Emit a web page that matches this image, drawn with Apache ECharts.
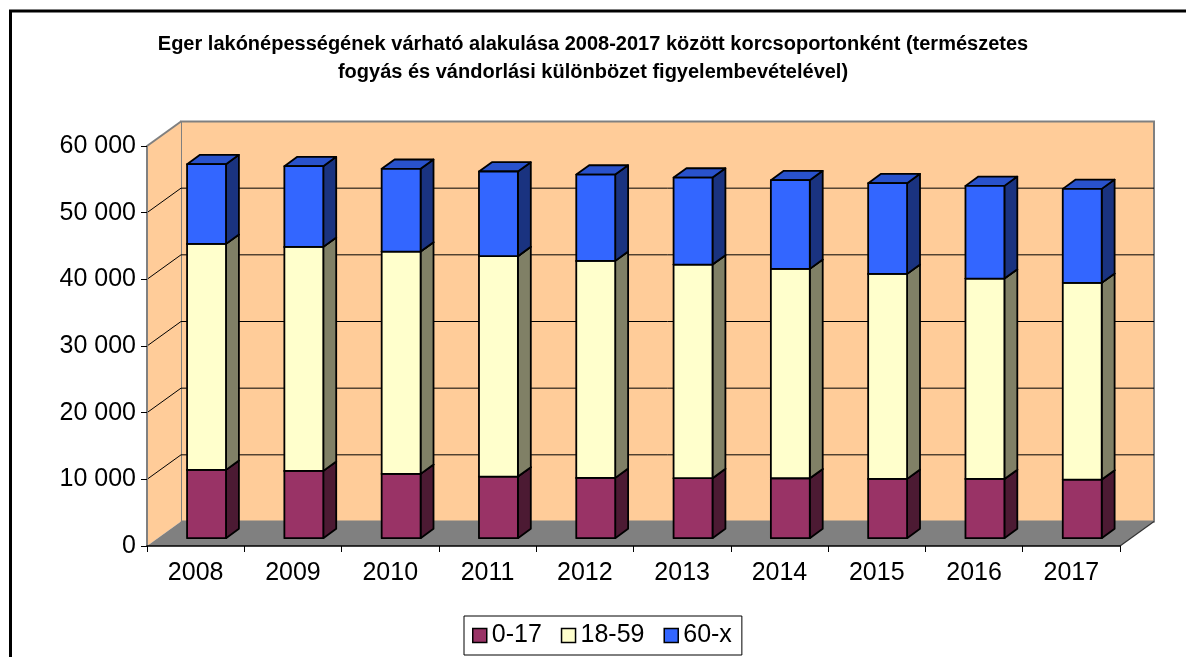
<!DOCTYPE html>
<html>
<head>
<meta charset="utf-8">
<script src="https://cdn.jsdelivr.net/npm/echarts@6/dist/echarts.min.js"></script>
<style>
  html, body { margin: 0; padding: 0; background: #fff; }
  #chart { width: 1186px; height: 657px; }
</style>
</head>
<body>
<div id="chart"></div>
<script>
// kategóriák és értékek
const years = ['2008', '2009', '2010', '2011', '2012', '2013', '2014', '2015', '2016', '2017']
const age0017 = [10240, 10090, 9640, 9240, 9040, 9000, 8990, 8890, 8880, 8790]
const age1859 = [33900, 33600, 33350, 33060, 32550, 32040, 31400, 30750, 30060, 29500]
const age60x = [11960, 12110, 12410, 12700, 12950, 13050, 13310, 13610, 13900, 14100]
const yTicks = [0, 10000, 20000, 30000, 40000, 50000, 60000]
const seriesNames = ['0-17', '18-59', '60-x']
const titleLines = [
  'Eger lakónépességének várható alakulása 2008-2017 között korcsoportonként (természetes',
  'fogyás és vándorlási különbözet figyelembevételével)'
]

const FONT = '"Liberation Sans", Arial, sans-serif'
// 3D mélység (px)
const DEPTH_X = 34
const DEPTH_Y = -24.5
const BAR_OFF = 0.32
const BAR_DEPTH = 0.38
const BAR_W = 0.4

const fmt = v => String(v).replace(/\B(?=(\d{3})+(?!\d))/g, ' ')

function stackData (vals, bases) {
  return vals.map((v, i) => [i, bases[i], bases[i] + v])
}
const base1 = age0017.slice()
const base2 = age0017.map((v, i) => v + age1859[i])

function barRender (face, side, top) {
  return function (params, api) {
    const i = api.value(0)
    const pLo = api.coord([i, api.value(1)])
    const pHi = api.coord([i, api.value(2)])
    const band = api.size([1, 0])[0]
    const w = band * BAR_W
    const ox = DEPTH_X * BAR_OFF
    const oy = DEPTH_Y * BAR_OFF
    const dx = DEPTH_X * BAR_DEPTH
    const dy = DEPTH_Y * BAR_DEPTH
    const x0 = pLo[0] - w / 2 + ox
    const x1 = x0 + w
    const yb = pLo[1] + oy
    const yt = pHi[1] + oy
    const stroke = { stroke: '#000', lineWidth: 1.8, lineJoin: 'round' }
    return {
      type: 'group',
      children: [
        { type: 'polygon', shape: { points: [[x1, yb], [x1 + dx, yb + dy], [x1 + dx, yt + dy], [x1, yt]] }, style: Object.assign({ fill: side }, stroke) },
        { type: 'polygon', shape: { points: [[x0, yt], [x1, yt], [x1 + dx, yt + dy], [x0 + dx, yt + dy]] }, style: Object.assign({ fill: top }, stroke) },
        { type: 'rect', shape: { x: x0, y: yt, width: w, height: yb - yt }, style: Object.assign({ fill: face }, stroke) }
      ]
    }
  }
}

function wallRender (params, api) {
  const band = api.size([1, 0])[0]
  const n = years.length
  const left = api.coord([0, 0])[0] - band / 2
  const right = api.coord([n - 1, 0])[0] + band / 2
  const yOf = v => api.coord([0, v])[1]
  const y0 = yOf(yTicks[0])
  const yTop = yOf(yTicks[yTicks.length - 1])
  const children = []
  // hátsó fal
  children.push({ type: 'rect', shape: { x: left + DEPTH_X, y: yTop + DEPTH_Y, width: right - left, height: y0 - yTop }, style: { fill: '#FFCC99', stroke: '#808080', lineWidth: 2 } })
  // bal oldali fal
  children.push({ type: 'polygon', shape: { points: [[left, y0], [left + DEPTH_X, y0 + DEPTH_Y], [left + DEPTH_X, yTop + DEPTH_Y], [left, yTop]] }, style: { fill: '#FFCC99' } })
  children.push({ type: 'line', shape: { x1: left, y1: yTop, x2: left + DEPTH_X, y2: yTop + DEPTH_Y }, style: { stroke: '#808080', lineWidth: 2 } })
  // rácsvonalak
  yTicks.slice(1, -1).forEach(v => {
    const y = yOf(v)
    children.push({ type: 'line', shape: { x1: left, y1: y, x2: left + DEPTH_X, y2: y + DEPTH_Y }, style: { stroke: '#000', lineWidth: 1 } })
    children.push({ type: 'line', shape: { x1: left + DEPTH_X, y1: y + DEPTH_Y, x2: right + DEPTH_X, y2: y + DEPTH_Y }, style: { stroke: '#000', lineWidth: 1 } })
  })
  // padló
  children.push({ type: 'polygon', shape: { points: [[left, y0], [right, y0], [right + DEPTH_X, y0 + DEPTH_Y], [left + DEPTH_X, y0 + DEPTH_Y]] }, style: { fill: '#808080' } })
  children.push({ type: 'line', shape: { x1: right, y1: y0, x2: right + DEPTH_X, y2: y0 + DEPTH_Y }, style: { stroke: '#333', lineWidth: 1.2 } })
  return { type: 'group', children }
}

const chart = echarts.init(document.getElementById('chart'), null, { renderer: 'canvas' })
const titleStyle = { fontFamily: FONT, fontSize: 20, fontWeight: 'bold', color: '#000' }
const option = {
  backgroundColor: '#fff',
  animation: false,
  graphic: [{
    type: 'rect',
    z: 100,
    shape: { x: 10.5, y: 11, width: 1300, height: 800 },
    style: { fill: null, stroke: '#000', lineWidth: 3 }
  }],
  title: [
    { text: titleLines[0], left: 'center', top: 34, padding: 0, textStyle: titleStyle },
    { text: titleLines[1], left: 'center', top: 62, padding: 0, textStyle: titleStyle }
  ],
  legend: {
    data: seriesNames,
    left: 464,
    top: 616,
    icon: 'rect',
    itemWidth: 14,
    itemHeight: 14,
    itemGap: 19,
    padding: [7, 10, 7, 8],
    borderColor: '#000',
    borderWidth: 1,
    itemStyle: { borderColor: '#000', borderWidth: 1.5 },
    textStyle: { fontFamily: FONT, fontSize: 25, color: '#000' }
  },
  grid: { left: 147, right: 66, top: 146, bottom: 111, containLabel: false },
  xAxis: {
    type: 'category',
    data: years,
    boundaryGap: true,
    axisLine: { lineStyle: { color: '#000', width: 1.5 } },
    axisTick: { show: true, length: 6, alignWithLabel: false, lineStyle: { color: '#000' } },
    axisLabel: { fontFamily: FONT, fontSize: 25, color: '#000', margin: 15 },
    splitLine: { show: false }
  },
  yAxis: {
    type: 'value',
    min: yTicks[0],
    max: yTicks[yTicks.length - 1],
    interval: yTicks[1] - yTicks[0],
    axisLine: { show: true, lineStyle: { color: '#808080', width: 2 } },
    axisTick: { show: true, length: 6, lineStyle: { color: '#000' } },
    axisLabel: { fontFamily: FONT, fontSize: 25, color: '#000', margin: 11, formatter: fmt },
    splitLine: { show: false }
  },
  series: [
    {
      type: 'custom',
      z: -5,
      silent: true,
      clip: false,
      renderItem: wallRender,
      encode: { x: 0, y: 1 },
      data: [[0, 0]]
    },
    {
      name: seriesNames[0],
      type: 'custom',
      z: 3,
      clip: false,
      renderItem: barRender('#993366', '#4C1A33', '#7A2952'),
      itemStyle: { color: '#993366', borderColor: '#000', borderWidth: 1.5 },
      encode: { x: 0, y: [1, 2] },
      data: stackData(age0017, years.map(() => 0))
    },
    {
      name: seriesNames[1],
      type: 'custom',
      z: 3,
      clip: false,
      renderItem: barRender('#FFFFCC', '#808066', '#CCCCA3'),
      itemStyle: { color: '#FFFFCC', borderColor: '#000', borderWidth: 1.5 },
      encode: { x: 0, y: [1, 2] },
      data: stackData(age1859, base1)
    },
    {
      name: seriesNames[2],
      type: 'custom',
      z: 3,
      clip: false,
      renderItem: barRender('#3366FF', '#1A3380', '#2952CC'),
      itemStyle: { color: '#3366FF', borderColor: '#000', borderWidth: 1.5 },
      encode: { x: 0, y: [1, 2] },
      data: stackData(age60x, base2)
    }
  ]
}
chart.setOption(option)
</script>
</body>
</html>
